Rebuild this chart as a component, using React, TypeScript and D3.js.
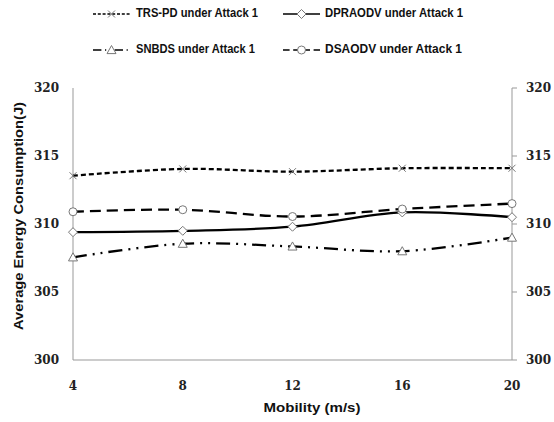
import React, { useRef, useEffect } from 'react';
import * as d3 from 'd3';

const mobility = [4, 8, 12, 16, 20];
const yTicks = [300, 305, 310, 315, 320];

const trsPd = [313.55, 314.05, 313.85, 314.1, 314.1];
const dpraodv = [309.4, 309.5, 309.8, 310.85, 310.5];
const snbds = [307.55, 308.55, 308.35, 308.0, 309.0];
const dsaodv = [310.9, 311.05, 310.55, 311.1, 311.5];

const seriesList = [
  { name: 'TRS-PD under Attack 1', values: trsPd, dash: '5,3', marker: 'x' },
  { name: 'DPRAODV under Attack 1', values: dpraodv, dash: null, marker: 'diamond' },
  { name: 'SNBDS under Attack 1', values: snbds, dash: '14,6,2,6,2,6', marker: 'triangle' },
  { name: 'DSAODV under Attack 1', values: dsaodv, dash: '11,6', marker: 'circle' },
];

function drawMarker(g: any, type: string, x: number, y: number) {
  const stroke = '#777';
  if (type === 'x') {
    const s = 3.5;
    g.append('path')
      .attr('d', `M${x - s},${y - s}L${x + s},${y + s}M${x - s},${y + s}L${x + s},${y - s}`)
      .attr('stroke', stroke).attr('stroke-width', 1).attr('fill', 'none');
  } else if (type === 'diamond') {
    const s = 4.5;
    g.append('path')
      .attr('d', `M${x},${y - s}L${x + s},${y}L${x},${y + s}L${x - s},${y}Z`)
      .attr('stroke', stroke).attr('stroke-width', 1).attr('fill', 'white');
  } else if (type === 'triangle') {
    const s = 4.5;
    g.append('path')
      .attr('d', `M${x},${y - s}L${x + s},${y + s * 0.8}L${x - s},${y + s * 0.8}Z`)
      .attr('stroke', stroke).attr('stroke-width', 1).attr('fill', 'white');
  } else {
    g.append('circle')
      .attr('cx', x).attr('cy', y).attr('r', 4)
      .attr('stroke', stroke).attr('stroke-width', 1).attr('fill', 'white');
  }
}

export default function App() {
  const svgRef = useRef<SVGSVGElement>(null);

  useEffect(() => {
    if (!svgRef.current) return;
    const left = 73, right = 512, top = 88, bottom = 360;

    const svg = d3.select(svgRef.current);
    svg.selectAll('*').remove();

    const x = d3.scalePoint<number>().domain(mobility).range([left, right]);
    const y = d3.scaleLinear().domain([300, 320]).range([bottom, top]);

    const axisColor = '#999';
    const tickFont = '"DejaVu Serif", serif';
    const sansFont = '"Liberation Sans", Arial, sans-serif';

    // axes lines
    svg.append('line').attr('x1', left).attr('x2', left).attr('y1', top).attr('y2', bottom)
      .attr('stroke', axisColor);
    svg.append('line').attr('x1', right).attr('x2', right).attr('y1', top).attr('y2', bottom)
      .attr('stroke', axisColor);
    svg.append('line').attr('x1', left).attr('x2', right).attr('y1', bottom).attr('y2', bottom)
      .attr('stroke', axisColor);

    yTicks.forEach((t) => {
      svg.append('text')
        .attr('x', 59).attr('y', y(t))
        .attr('text-anchor', 'end').attr('dominant-baseline', 'middle')
        .attr('font-family', tickFont).attr('font-weight', 'bold').attr('font-size', 12)
        .attr('fill', '#222').text(t);
      svg.append('line')
        .attr('x1', right).attr('x2', right + 5).attr('y1', y(t)).attr('y2', y(t))
        .attr('stroke', axisColor);
      svg.append('text')
        .attr('x', 526).attr('y', y(t))
        .attr('text-anchor', 'start').attr('dominant-baseline', 'middle')
        .attr('font-family', tickFont).attr('font-weight', 'bold').attr('font-size', 12)
        .attr('fill', '#222').text(t);
    });

    mobility.forEach((m) => {
      svg.append('text')
        .attr('x', x(m)!).attr('y', 386)
        .attr('text-anchor', 'middle').attr('dominant-baseline', 'middle')
        .attr('font-family', tickFont).attr('font-weight', 'bold').attr('font-size', 12)
        .attr('fill', '#222').text(m);
    });

    // axis titles
    svg.append('text')
      .attr('transform', `translate(20,216) rotate(-90)`)
      .attr('text-anchor', 'middle').attr('dominant-baseline', 'middle')
      .attr('font-family', sansFont).attr('font-weight', 'bold').attr('font-size', 13)
      .attr('textLength', 228).attr('lengthAdjust', 'spacingAndGlyphs')
      .attr('fill', '#111').text('Average Energy Consumption(J)');
    svg.append('text')
      .attr('x', 312).attr('y', 409)
      .attr('text-anchor', 'middle').attr('dominant-baseline', 'middle')
      .attr('font-family', sansFont).attr('font-weight', 'bold').attr('font-size', 13)
      .attr('textLength', 97).attr('lengthAdjust', 'spacingAndGlyphs')
      .attr('fill', '#111').text('Mobility (m/s)');

    const line = d3.line<number>()
      .x((_, i) => x(mobility[i])!)
      .y((d) => y(d))
      .curve(d3.curveCatmullRom.alpha(0.5));

    seriesList.forEach((s) => {
      svg.append('path')
        .attr('d', line(s.values))
        .attr('fill', 'none').attr('stroke', '#000').attr('stroke-width', 2.3)
        .attr('stroke-dasharray', s.dash);
      s.values.forEach((v, i) => drawMarker(svg, s.marker, x(mobility[i])!, y(v)));
    });

    // legend
    const legendPos = [
      { lx: 93, tx: 136, ly: 14, tl: 122 },
      { lx: 283, tx: 325, ly: 14, tl: 138 },
      { lx: 93, tx: 136, ly: 50, tl: 119 },
      { lx: 283, tx: 325, ly: 50, tl: 137 },
    ];
    seriesList.forEach((s, i) => {
      const p = legendPos[i];
      svg.append('line')
        .attr('x1', p.lx).attr('x2', p.lx + 37).attr('y1', p.ly).attr('y2', p.ly)
        .attr('stroke', '#000').attr('stroke-width', 1.3)
        .attr('stroke-dasharray', s.dash ? s.dash.split(',').map((d) => +d * 0.6).join(',') : null);
      const g = svg.append('g');
      drawMarker(g, s.marker, p.lx + 18.5, p.ly);
      svg.append('text')
        .attr('x', p.tx).attr('y', p.ly)
        .attr('dominant-baseline', 'middle')
        .attr('font-family', sansFont).attr('font-weight', 'bold').attr('font-size', 12)
        .attr('textLength', p.tl).attr('lengthAdjust', 'spacingAndGlyphs')
        .attr('fill', '#111').text(s.name);
    });
  }, []);

  return (
    <div style={{ position: 'absolute', left: 0, top: 0 }}>
      <svg ref={svgRef} width={554} height={422} style={{ display: 'block', background: 'white' }} />
    </div>
  );
}
